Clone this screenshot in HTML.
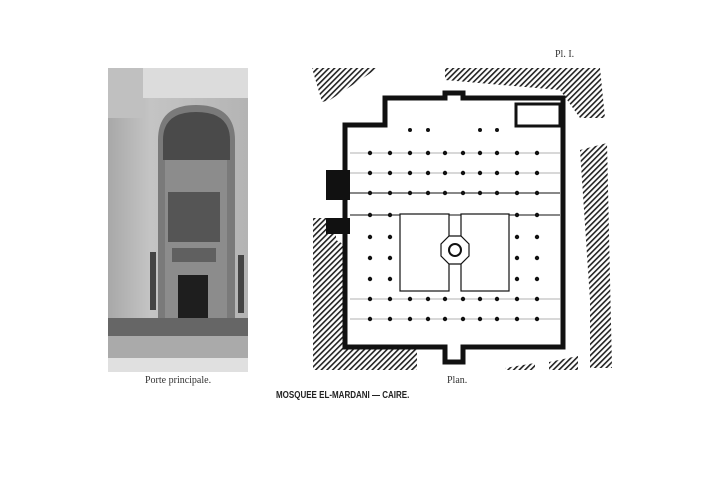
<!DOCTYPE html>
<html><head><meta charset="utf-8"><style>
html,body{margin:0;padding:0;background:#fff;}
body{width:720px;height:479px;position:relative;overflow:hidden;}
.t{position:absolute;font-family:"Liberation Serif",serif;color:#333;white-space:nowrap;}
</style></head><body>
<svg width="720" height="479" style="position:absolute;left:0;top:0">
<defs>
<pattern id="h" width="4" height="4" patternUnits="userSpaceOnUse" patternTransform="rotate(45)">
<rect width="4" height="4" fill="#fff"/><rect width="1.6" height="4" fill="#222"/></pattern>
<linearGradient id="wall" x1="0" x2="1"><stop offset="0" stop-color="#a8a8a8"/><stop offset="0.3" stop-color="#c4c4c4"/><stop offset="1" stop-color="#b4b4b4"/></linearGradient>
<g id="r"><circle cx="370" r="2.2"/><circle cx="390" r="2.2"/><circle cx="410" r="2.2"/><circle cx="428" r="2.2"/><circle cx="445" r="2.2"/><circle cx="463" r="2.2"/><circle cx="480" r="2.2"/><circle cx="497" r="2.2"/><circle cx="517" r="2.2"/><circle cx="537" r="2.2"/></g>
</defs>
<!-- photo -->
<rect x="108" y="68" width="140" height="304" fill="url(#wall)"/>
<rect x="108" y="68" width="140" height="30" fill="#dcdcdc"/>
<rect x="108" y="68" width="35" height="50" fill="#c0c0c0"/>
<path d="M158 330 V140 Q158 105 196 105 Q235 105 235 140 V330 Z" fill="#7a7a7a"/>
<path d="M163 160 V140 Q163 112 196 112 Q230 112 230 140 V160 Z" fill="#4a4a4a"/>
<rect x="165" y="160" width="62" height="170" fill="#8c8c8c"/>
<rect x="168" y="192" width="52" height="50" fill="#555"/>
<rect x="172" y="248" width="44" height="14" fill="#606060"/>
<rect x="178" y="275" width="30" height="52" fill="#1e1e1e"/>
<rect x="150" y="252" width="6" height="58" fill="#444"/>
<rect x="238" y="255" width="6" height="58" fill="#444"/>
<rect x="108" y="318" width="140" height="18" fill="#666"/>
<rect x="108" y="336" width="140" height="22" fill="#aaa"/>
<rect x="108" y="358" width="140" height="14" fill="#e0e0e0"/>
<!-- plan hatch -->
<polygon points="312,68 378,68 330,100 322,102" fill="url(#h)"/>
<polygon points="445,68 600,68 605,118 580,118 560,90 445,80" fill="url(#h)"/>
<polygon points="580,150 607,143 612,368 590,368 590,300" fill="url(#h)"/>
<polygon points="313,218 336,218 336,240 345,245 345,347 417,347 417,370 313,370" fill="url(#h)"/>
<polygon points="505,368 535,363 535,370 505,370" fill="url(#h)"/>
<polygon points="549,362 578,356 578,370 549,370" fill="url(#h)"/>
<!-- building -->
<path d="M345 125 H385 V98 H445 V93 H463 V98 H563 V347 H463 V362 H445 V347 H345 Z" fill="#fff" stroke="#111" stroke-width="5"/>
<rect x="326" y="170" width="24" height="30" fill="#111"/>
<rect x="326" y="218" width="24" height="16" fill="#111"/>
<rect x="516" y="104" width="44" height="22" fill="none" stroke="#111" stroke-width="3"/>
<g stroke="#666" stroke-width="0.6" fill="none">
<line x1="350" y1="153" x2="560" y2="153"/><line x1="350" y1="173" x2="560" y2="173"/>
<line x1="350" y1="193" x2="560" y2="193" stroke="#111" stroke-width="1"/>
<line x1="350" y1="215" x2="560" y2="215" stroke="#111" stroke-width="1"/>
<line x1="350" y1="299" x2="560" y2="299"/><line x1="350" y1="319" x2="560" y2="319"/>
</g>
<g fill="#111">
<use href="#r" y="153"/><use href="#r" y="173"/><use href="#r" y="193"/><use href="#r" y="299"/><use href="#r" y="319"/>
<circle cx="370" cy="215" r="2.2"/><circle cx="390" cy="215" r="2.2"/><circle cx="517" cy="215" r="2.2"/><circle cx="537" cy="215" r="2.2"/>
<circle cx="370" cy="237" r="2.2"/><circle cx="390" cy="237" r="2.2"/><circle cx="517" cy="237" r="2.2"/><circle cx="537" cy="237" r="2.2"/>
<circle cx="370" cy="258" r="2.2"/><circle cx="390" cy="258" r="2.2"/><circle cx="517" cy="258" r="2.2"/><circle cx="537" cy="258" r="2.2"/>
<circle cx="370" cy="279" r="2.2"/><circle cx="390" cy="279" r="2.2"/><circle cx="517" cy="279" r="2.2"/><circle cx="537" cy="279" r="2.2"/>
<circle cx="410" cy="130" r="2"/><circle cx="428" cy="130" r="2"/><circle cx="480" cy="130" r="2"/><circle cx="497" cy="130" r="2"/>
</g>
<rect x="400" y="214" width="49" height="77" fill="#fff" stroke="#111" stroke-width="1.2"/>
<rect x="461" y="214" width="48" height="77" fill="#fff" stroke="#111" stroke-width="1.2"/>
<polygon points="449,236 461,236 469,244 469,256 461,264 449,264 441,256 441,244" fill="#fff" stroke="#111" stroke-width="1.2"/>
<circle cx="455" cy="250" r="6" fill="none" stroke="#111" stroke-width="2"/>
</svg>
<div class="t" style="left:555px;top:49px;font-size:10px">Pl. I.</div>
<div class="t" style="left:145px;top:375px;font-size:10px">Porte principale.</div>
<div class="t" style="left:447px;top:375px;font-size:10px">Plan.</div>
<div class="t" style="left:276px;top:390px;font-size:10px;font-family:'Liberation Sans',sans-serif;font-weight:bold;color:#222;transform:scaleX(0.8);transform-origin:0 0">MOSQUEE EL-MARDANI — CAIRE.</div>
</body></html>
